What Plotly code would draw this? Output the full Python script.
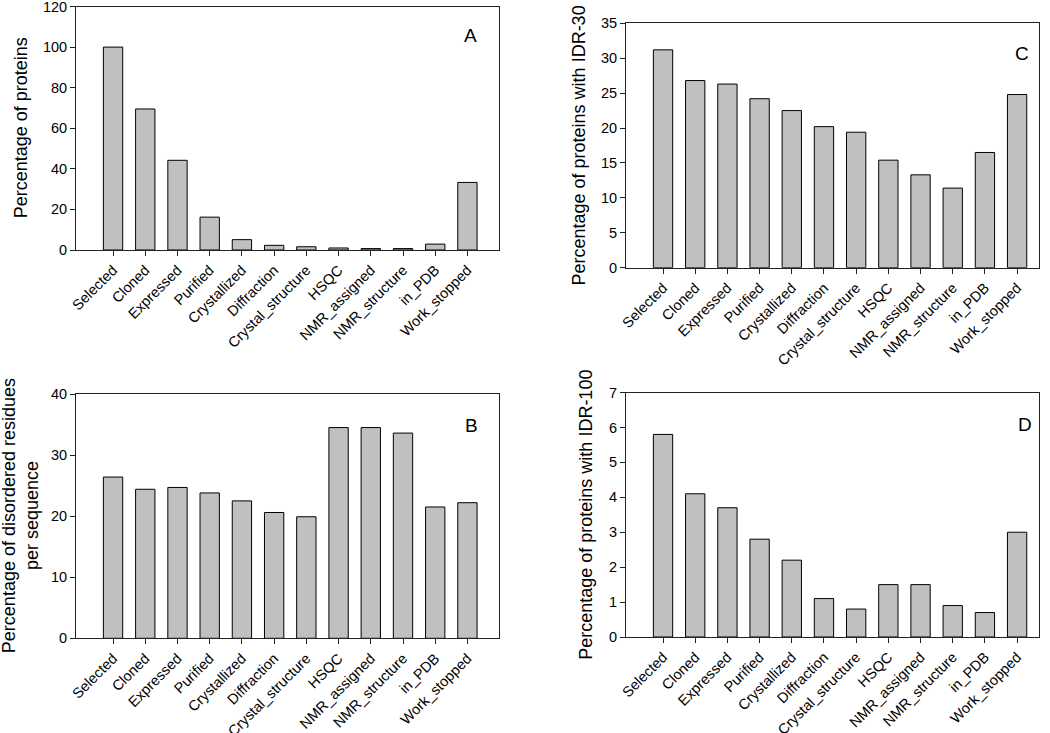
import plotly.graph_objects as go

categories = ["Selected", "Cloned", "Expressed", "Purified", "Crystallized", "Diffraction",
              "Crystal_structure", "HSQC", "NMR_assigned", "NMR_structure", "in_PDB", "Work_stopped"]

pct_proteins = [100, 69.5, 44.2, 16.2, 5.1, 2.3, 1.6, 1.0, 0.7, 0.7, 2.9, 33.3]
pct_idr30 = [31.2, 26.8, 26.3, 24.2, 22.5, 20.2, 19.4, 15.4, 13.3, 11.4, 16.5, 24.8]
pct_disordered = [26.4, 24.4, 24.7, 23.8, 22.5, 20.6, 19.9, 34.5, 34.5, 33.6, 21.5, 22.2]
pct_idr100 = [5.8, 4.1, 3.7, 2.8, 2.2, 1.1, 0.8, 1.5, 1.5, 0.9, 0.7, 3.0]

W, H = 1050, 733
FONT = "Arial, Liberation Sans, sans-serif"

# panel geometry in pixels: (x0, x1, ytop, ybottom)
panels = {
    "A": dict(vals=pct_proteins, px=(76, 499, 6.5, 250), yr=[0, 120], dt=20,
              title="Percentage of proteins", tx=21, lab=(470, 36)),
    "C": dict(vals=pct_idr30, px=(626, 1039, 23.3, 267.7), yr=[0, 35], dt=5,
              title="Percentage of proteins with IDR-30", tx=578, lab=(1022, 54)),
    "B": dict(vals=pct_disordered, px=(76, 499, 394, 638.3), yr=[0, 40], dt=10,
              title="Percentage of disordered residues<br>per sequence", tx=20, lab=(471, 425.5)),
    "D": dict(vals=pct_idr100, px=(626, 1039, 392.5, 637), yr=[0, 7], dt=1,
              title="Percentage of proteins with IDR-100", tx=586, lab=(1025, 424)),
}

fig = go.Figure()
annotations = []
for i, (name, p) in enumerate(panels.items(), start=1):
    sfx = "" if i == 1 else str(i)
    x0, x1, yt, yb = p["px"]
    fig.add_trace(go.Bar(
        x=categories, y=p["vals"], xaxis="x" + sfx, yaxis="y" + sfx,
        marker=dict(color="#c0c0c0", line=dict(color="#000000", width=1)),
        width=0.6, showlegend=False))
    fig.layout["xaxis" + sfx] = dict(
        domain=[x0 / W, x1 / W], anchor="y" + sfx, type="category", automargin=False,
        range=[-1.15, 11.98 if x0 < 500 else 11.68], showgrid=False, zeroline=False,
        showline=True, linecolor="#222", linewidth=1, mirror=True,
        ticks="outside", ticklen=5, tickcolor="#222", tickangle=-45,
        ticklabeloverflow="allow",
        tickfont=dict(family=FONT, size=14.5, color="#000"))
    fig.layout["yaxis" + sfx] = dict(
        domain=[1 - yb / H, 1 - yt / H], anchor="x" + sfx, range=p["yr"], dtick=p["dt"],
        automargin=False, showgrid=False, zeroline=False, showline=True, linecolor="#222",
        linewidth=1, mirror=True, ticks="outside", ticklen=5, tickcolor="#222",
        ticklabeloverflow="allow",
        tickfont=dict(family=FONT, size=14.5, color="#000"))
    annotations.append(dict(
        text=p["title"], xref="paper", yref="paper", x=p["tx"] / W,
        y=1 - (yt + yb) / 2 / H, textangle=-90, showarrow=False,
        xanchor="center", yanchor="middle",
        font=dict(family=FONT, size=18, color="#000")))
    annotations.append(dict(
        text=name, xref="paper", yref="paper", x=p["lab"][0] / W, y=1 - p["lab"][1] / H,
        showarrow=False, xanchor="center", yanchor="middle",
        font=dict(family=FONT, size=19, color="#000")))

fig.update_layout(
    width=W, height=H, margin=dict(l=0, r=0, t=0, b=0),
    paper_bgcolor="white", plot_bgcolor="white",
    annotations=annotations, bargap=0.4)

fig.write_html("out.html", config={"displayModeBar": False},
               post_script="document.body.style.margin='0';")
